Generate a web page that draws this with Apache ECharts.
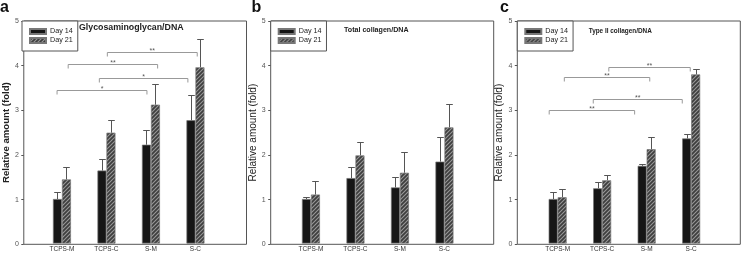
<!DOCTYPE html>
<html><head><meta charset="utf-8">
<script src="https://cdn.jsdelivr.net/npm/echarts@6/dist/echarts.min.js"></script>
<style>html,body{margin:0;padding:0;background:#fff}#c{width:741px;height:253px}</style>
</head><body><div id="c"></div>
<script>
// ---- data ----
const categories = ['TCPS-M', 'TCPS-C', 'S-M', 'S-C'];
const seriesNames = ['Day 14', 'Day 21'];
const yTickMin = 0, yTickMax = 5, yTickStep = 1;

const gagDay14 = [1.00, 1.64, 2.22, 2.77];
const gagDay14Sd = [0.15, 0.25, 0.34, 0.56];
const gagDay21 = [1.44, 2.49, 3.12, 3.96];
const gagDay21Sd = [0.29, 0.28, 0.46, 0.63];

const colDay14 = [1.00, 1.47, 1.26, 1.84];
const colDay14Sd = [0.05, 0.25, 0.24, 0.55];
const colDay21 = [1.10, 1.98, 1.59, 2.61];
const colDay21Sd = [0.31, 0.30, 0.47, 0.52];

const col2Day14 = [1.00, 1.24, 1.745, 2.36];
const col2Day14Sd = [0.15, 0.15, 0.035, 0.09];
const col2Day21 = [1.04, 1.42, 2.12, 3.80];
const col2Day21Sd = [0.19, 0.12, 0.27, 0.13];

// significance brackets: from / to (category units), height, label
const gagSigFrom = [1.02, 0.14, 0.84, -0.11];
const gagSigTo = [3.04, 2.15, 2.83, 1.91];
const gagSigY = [4.30, 4.04, 3.71, 3.45];
const gagSigLabel = ['**', '**', '*', '*'];

const col2SigFrom = [1.15, 0.15, 0.80, -0.19];
const col2SigTo = [2.98, 2.07, 2.80, 1.73];
const col2SigY = [3.97, 3.74, 3.24, 3.00];
const col2SigLabel = ['**', '**', '**', '**'];

const panelTitles = ['Glycosaminoglycan/DNA', 'Total collagen/DNA', 'Type II collagen/DNA'];
const panelLetters = ['a', 'b', 'c'];
const yAxisTitle = 'Relative amount (fold)';

// ---- layout ----
const FONT = 'Liberation Sans, Arial, sans-serif';
const panels = [
  { box: [22, 21, 224.5, 223.3], barLeft: 39.7, d14: gagDay14, d14sd: gagDay14Sd, d21: gagDay21, d21sd: gagDay21Sd,
    sig: [gagSigFrom, gagSigTo, gagSigY, gagSigLabel], nameBold: true, nameGap: 9, nameSize: 9.6,
    title: { x: 79, y: 27.5, size: 8.8 }, letter: { x: 0, y: 7.2 } },
  { box: [270.7, 21, 223, 223.3], barLeft: 288.7, d14: colDay14, d14sd: colDay14Sd, d21: colDay21, d21sd: colDay21Sd,
    sig: null, nameBold: false, nameGap: 10, nameSize: 10,
    title: { x: 344, y: 30.5, size: 7.1 }, letter: { x: 251.5, y: 7.2 } },
  { box: [517.3, 21, 223, 223.3], barLeft: 535.4, d14: col2Day14, d14sd: col2Day14Sd, d21: col2Day21, d21sd: col2Day21Sd,
    sig: [col2SigFrom, col2SigTo, col2SigY, col2SigLabel], nameBold: false, nameGap: 9.5, nameSize: 10,
    title: { x: 588.7, y: 31, size: 6.4 }, letter: { x: 500, y: 7.8 } }
];
const BAND = 44.5;
const BAR_W = 9;

// hatch pattern "////"
const pc = document.createElement('canvas');
pc.width = 4; pc.height = 4;
const g = pc.getContext('2d');
g.fillStyle = '#3e3e3e';
g.fillRect(0, 0, 4, 4);
g.strokeStyle = '#999';
g.lineWidth = 1.1;
[[-4, 4, 4, -4], [0, 4, 4, 0], [0, 8, 8, 0]].forEach(([x1, y1, x2, y2]) => {
  g.beginPath(); g.moveTo(x1, y1); g.lineTo(x2, y2); g.stroke();
});
const hatchFill = { image: pc, repeat: 'repeat' };

const grid = [], xAxis = [], yAxis = [], series = [], legend = [], graphic = [];

panels.forEach((p, k) => {
  const [L, T, W, H] = p.box;
  const gFrame = grid.length;
  grid.push({ left: L, top: T, width: W, height: H, show: true, borderColor: '#555', borderWidth: 1, backgroundColor: 'transparent' });
  const gBar = grid.length;
  grid.push({ left: p.barLeft, top: T, width: BAND * 4, height: H });

  const xFrame = xAxis.length;
  xAxis.push({ gridIndex: gFrame, type: 'value', show: false, min: 0, max: 1 });
  const xCat = xAxis.length;
  xAxis.push({ gridIndex: gBar, type: 'category', data: categories, boundaryGap: true,
    axisLine: { show: false }, axisTick: { show: false },
    axisLabel: { fontSize: 6.5, color: '#333', margin: 2.5, fontFamily: FONT, interval: 0 } });
  const xVal = xAxis.length;
  xAxis.push({ gridIndex: gBar, type: 'value', show: false, min: -0.5, max: 3.5 });

  const yFrame = yAxis.length;
  yAxis.push({ gridIndex: gFrame, type: 'value', min: yTickMin, max: yTickMax, interval: yTickStep,
    name: yAxisTitle, nameLocation: 'middle', nameGap: p.nameGap,
    nameTextStyle: { fontSize: p.nameSize, fontWeight: p.nameBold ? 'bold' : 'normal', color: '#222', fontFamily: FONT },
    axisLine: { show: false }, splitLine: { show: false },
    axisTick: { show: true, length: 2.5, lineStyle: { color: '#555' } },
    axisLabel: { fontSize: 7, color: '#555', margin: 5, fontFamily: FONT } });
  const yBar = yAxis.length;
  yAxis.push({ gridIndex: gBar, type: 'value', min: yTickMin, max: yTickMax, show: false });

  series.push({ type: 'line', xAxisIndex: xFrame, yAxisIndex: yFrame, data: [], silent: true });

  series.push({ name: seriesNames[0], type: 'bar', xAxisIndex: xCat, yAxisIndex: yBar, data: p.d14,
    barWidth: BAR_W, barGap: '0%', itemStyle: { color: '#161616', borderColor: '#777', borderWidth: 0.7 } });
  series.push({ name: seriesNames[1], type: 'bar', xAxisIndex: xCat, yAxisIndex: yBar, data: p.d21,
    barWidth: BAR_W, barGap: '0%', itemStyle: { color: hatchFill, borderColor: '#777', borderWidth: 0.7 } });

  [[p.d14, p.d14sd, -1], [p.d21, p.d21sd, 1]].forEach(([m, sd, side]) => {
    series.push({ type: 'custom', xAxisIndex: xCat, yAxisIndex: yBar, z: 5, silent: true,
      data: m.map((v, i) => [i, v, v + sd[i]]),
      renderItem: (params, api) => {
        const base = api.coord([api.value(0), api.value(1)]);
        const top = api.coord([api.value(0), api.value(2)]);
        const x = Math.round(base[0] + side * BAR_W / 2) + 0.5;
        const yt = Math.round(top[1]) + 0.5;
        return { type: 'group', children: [
          { type: 'line', shape: { x1: x, y1: base[1], x2: x, y2: yt }, style: { stroke: '#555', lineWidth: 1 } },
          { type: 'line', shape: { x1: x - 3.3, y1: yt, x2: x + 3.3, y2: yt }, style: { stroke: '#555', lineWidth: 1 } }
        ] };
      } });
  });

  if (p.sig) {
    const [from, to, yy, lab] = p.sig;
    series.push({ type: 'custom', xAxisIndex: xVal, yAxisIndex: yBar, z: 6, silent: true,
      data: from.map((f, i) => [f, to[i], yy[i], i]),
      renderItem: (params, api) => {
        const a = api.coord([api.value(0), api.value(2)]);
        const b = api.coord([api.value(1), api.value(2)]);
        const y = Math.round(a[1]) + 0.5;
        const label = lab[api.value(3)];
        return { type: 'group', children: [
          { type: 'polyline', shape: { points: [[a[0], y + 4], [a[0], y], [b[0], y], [b[0], y + 4]] },
            style: { stroke: '#999', lineWidth: 1, fill: null } },
          { type: 'text', x: (a[0] + b[0]) / 2, y: y - 1.5,
            style: { text: label, fontSize: 7, fill: '#555', align: 'center', verticalAlign: 'middle', fontFamily: FONT } }
        ] };
      } });
  }

  legend.push({ data: seriesNames, orient: 'vertical', left: L, top: T, padding: [6, 5, 6, 7],
    itemWidth: 16, itemHeight: 5, itemGap: 0, icon: 'rect', selectedMode: false,
    borderColor: '#555', borderWidth: 1, backgroundColor: '#fff',
    textStyle: { fontSize: 7.2, color: '#222', fontFamily: FONT, lineHeight: 9, padding: [0, 0, 0, -1] } });

  graphic.push({ type: 'text', x: p.title.x, y: p.title.y,
    style: { text: panelTitles[k], fontSize: p.title.size, fontWeight: 'bold', fill: '#222', fontFamily: FONT, verticalAlign: 'middle' } });
  graphic.push({ type: 'text', x: p.letter.x, y: p.letter.y,
    style: { text: panelLetters[k], fontSize: 16, fontWeight: 'bold', fill: '#111', fontFamily: FONT, verticalAlign: 'middle' } });
});

const chart = echarts.init(document.getElementById('c'), null, { renderer: 'canvas' });
chart.setOption({
  animation: false,
  backgroundColor: '#fff',
  grid, xAxis, yAxis, series, legend, graphic
});
</script>
</body></html>
